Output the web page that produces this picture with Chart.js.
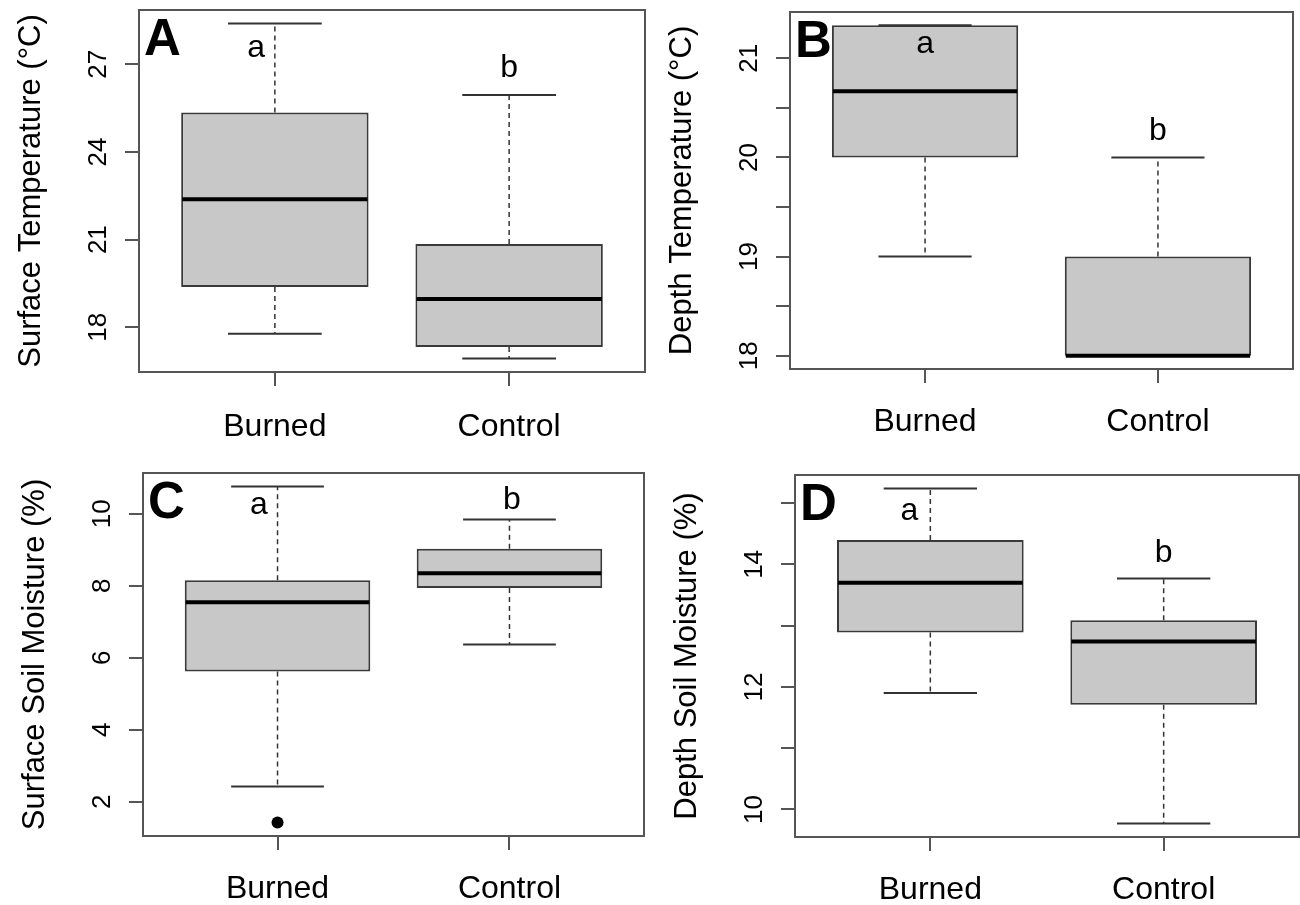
<!DOCTYPE html>
<html>
<head>
<meta charset="utf-8">
<script src="https://cdn.jsdelivr.net/npm/chart.js@4/dist/chart.umd.min.js"></script>
<style>
  body { margin: 0; background: #fff; width: 1300px; height: 905px; position: relative; overflow: hidden; }
  .panel { position: absolute; }
</style>
</head>
<body>
<div class="panel" style="left:0;top:0"><canvas id="cA" width="650" height="452"></canvas></div>
<div class="panel" style="left:650px;top:0"><canvas id="cB" width="650" height="452"></canvas></div>
<div class="panel" style="left:0;top:452px"><canvas id="cC" width="650" height="453"></canvas></div>
<div class="panel" style="left:650px;top:452px"><canvas id="cD" width="650" height="453"></canvas></div>
<script>
const groups = ["Burned", "Control"];
const groupPos = [1, 2];

// A - surface temperature
const surfTempLow = [17.78, 16.93];
const surfTempQ1 = [19.38, 17.33];
const surfTempMed = [22.38, 18.97];
const surfTempQ3 = [25.35, 20.85];
const surfTempHigh = [28.4, 25.95];
const surfTempOut = [];
const surfTempTicks = [18, 21, 24, 27];
const surfTempTickLabels = ["18", "21", "24", "27"];
const surfTempSig = ["a", "b"];
const surfTempSigX = [0.92, 2.0];
const surfTempSigY = [27.25, 26.55];

// B - depth temperature
const depthTempLow = [19.0, 18.0];
const depthTempQ1 = [20.0, 18.0];
const depthTempMed = [20.667, 18.0];
const depthTempQ3 = [21.333, 19.0];
const depthTempHigh = [21.333, 20.0];
const depthTempOut = [];
const depthTempTicks = [18, 18.5, 19, 19.5, 20, 20.5, 21];
const depthTempTickLabels = ["18", "", "19", "", "20", "", "21"];
const depthTempSig = ["a", "b"];
const depthTempSigX = [1.0, 2.0];
const depthTempSigY = [21.05, 20.18];

// C - surface soil moisture
const surfMoistLow = [2.42, 6.37];
const surfMoistQ1 = [5.62, 7.94];
const surfMoistMed = [7.54, 8.35];
const surfMoistQ3 = [8.15, 9.03];
const surfMoistHigh = [10.76, 9.84];
const surfMoistOut = [[1, 1.42]];
const surfMoistTicks = [2, 4, 6, 8, 10];
const surfMoistTickLabels = ["2", "4", "6", "8", "10"];
const surfMoistSig = ["a", "b"];
const surfMoistSigX = [0.92, 2.01];
const surfMoistSigY = [10.0, 10.14];

// D - depth soil moisture
const depthMoistLow = [11.9, 9.77];
const depthMoistQ1 = [12.89, 11.71];
const depthMoistMed = [13.7, 12.74];
const depthMoistQ3 = [14.4, 13.09];
const depthMoistHigh = [15.24, 13.77];
const depthMoistOut = [];
const depthMoistTicks = [10, 11, 12, 13, 14, 15];
const depthMoistTickLabels = ["10", "", "12", "", "14", ""];
const depthMoistSig = ["a", "b"];
const depthMoistSigX = [0.91, 2.0];
const depthMoistSigY = [14.72, 14.04];

const ink = "#000";
const frameColor = "#555";
const sans = "'Liberation Sans', Arial, sans-serif";

function decor(p) {
  return {
    id: "decor" + p.letter,
    afterDatasetsDraw(chart) {
      const { ctx, scales: { x, y } } = chart;
      const bars = chart.getDatasetMeta(0).data;
      ctx.save();
      groupPos.forEach((pos, i) => {
        const cx = x.getPixelForValue(pos);
        const half = bars[i].width / 2;
        // dashed whiskers
        ctx.strokeStyle = "#333";
        ctx.lineWidth = 1.5;
        ctx.setLineDash([5, 4]);
        ctx.beginPath();
        ctx.moveTo(cx, y.getPixelForValue(p.q3[i]));
        ctx.lineTo(cx, y.getPixelForValue(p.high[i]));
        ctx.moveTo(cx, y.getPixelForValue(p.q1[i]));
        ctx.lineTo(cx, y.getPixelForValue(p.low[i]));
        ctx.stroke();
        ctx.setLineDash([]);
        // staples
        ctx.lineWidth = 2;
        ctx.beginPath();
        [p.high[i], p.low[i]].forEach(v => {
          ctx.moveTo(cx - half / 2, y.getPixelForValue(v));
          ctx.lineTo(cx + half / 2, y.getPixelForValue(v));
        });
        ctx.stroke();
        // median
        ctx.strokeStyle = "#000";
        ctx.lineWidth = 4;
        ctx.beginPath();
        ctx.moveTo(cx - half + 1, y.getPixelForValue(p.med[i]));
        ctx.lineTo(cx + half - 1, y.getPixelForValue(p.med[i]));
        ctx.stroke();
      });
      ctx.restore();
    },
    afterDraw(chart) {
      const { ctx, chartArea: a, scales: { x, y } } = chart;
      ctx.save();
      // full frame round the plot, like R's box()
      ctx.strokeStyle = frameColor;
      ctx.lineWidth = 2;
      ctx.strokeRect(a.left, a.top, a.right - a.left, a.bottom - a.top);

      ctx.fillStyle = ink;
      // rotated y tick labels
      ctx.font = "26px " + sans;
      ctx.textAlign = "center";
      ctx.textBaseline = "alphabetic";
      p.ticks.forEach((v, i) => {
        if (!p.tickLabels[i]) return;
        ctx.save();
        ctx.translate(a.left - 33, y.getPixelForValue(v));
        ctx.rotate(-Math.PI / 2);
        ctx.fillText(p.tickLabels[i], 0, 0);
        ctx.restore();
      });
      // y title
      ctx.save();
      ctx.font = "31px " + sans;
      ctx.textBaseline = "middle";
      ctx.translate(a.left - 108, (a.top + a.bottom) / 2);
      ctx.rotate(-Math.PI / 2);
      ctx.fillText(p.title, 0, 0);
      ctx.restore();
      // significance letters
      ctx.font = "32px " + sans;
      ctx.textBaseline = "alphabetic";
      p.sig.forEach((s, i) => {
        ctx.fillText(s, x.getPixelForValue(p.sigX[i]), y.getPixelForValue(p.sigY[i]));
      });
      // panel letter
      ctx.font = "bold 51px " + sans;
      ctx.textAlign = "left";
      ctx.fillText(p.letter, a.left + 5, a.top + 45);
      ctx.restore();
    }
  };
}

function makePanel(id, p) {
  const all = p.low.concat(p.high, p.out.map(o => o[1]));
  const lo = Math.min(...all), hi = Math.max(...all);
  const pad = 0.04 * (hi - lo);
  const xLo = groupPos[0] - 0.5, xHi = groupPos[groupPos.length - 1] + 0.5;
  const xPad = 0.04 * (xHi - xLo);

  new Chart(document.getElementById(id), {
    type: "bar",
    data: {
      datasets: [
        {
          data: groupPos.map((pos, i) => ({ x: pos, y: [p.q1[i], p.q3[i]] })),
          backgroundColor: "#c8c8c8",
          borderColor: "#3a3a3a",
          borderWidth: 2,
          borderSkipped: false,
          barPercentage: 0.8,
          categoryPercentage: 1
        },
        {
          type: "scatter",
          data: p.out.map(o => ({ x: o[0], y: o[1] })),
          pointRadius: 6,
          backgroundColor: "#000",
          borderWidth: 0
        }
      ]
    },
    options: {
      responsive: false,
      animation: false,
      events: [],
      layout: { padding: p.pad },
      plugins: { legend: { display: false }, tooltip: { enabled: false } },
      scales: {
        x: {
          type: "linear",
          offset: false,
          min: xLo - xPad,
          max: xHi + xPad,
          afterBuildTicks: s => { s.ticks = groupPos.map(v => ({ value: v })); },
          afterFit: s => { s.height = p.xh; },
          grid: { offset: false, drawOnChartArea: false, drawTicks: true, tickLength: 14, color: frameColor, lineWidth: 2 },
          border: { display: false },
          ticks: {
            callback: (v, i) => groups[i],
            autoSkip: false,
            maxRotation: 0,
            padding: p.xPadTick,
            color: ink,
            font: { family: sans, size: 32 }
          }
        },
        y: {
          type: "linear",
          min: lo - pad,
          max: hi + pad,
          afterBuildTicks: s => { s.ticks = p.ticks.map(v => ({ value: v })); },
          afterFit: s => { s.width = p.yw; },
          grid: { drawOnChartArea: false, drawTicks: true, tickLength: 14, color: frameColor, lineWidth: 2 },
          border: { display: false },
          ticks: { display: false }
        }
      }
    },
    plugins: [decor(p)]
  });
}

makePanel("cA", {
  letter: "A", title: "Surface Temperature (\u00B0C)",
  low: surfTempLow, q1: surfTempQ1, med: surfTempMed, q3: surfTempQ3, high: surfTempHigh, out: surfTempOut,
  ticks: surfTempTicks, tickLabels: surfTempTickLabels,
  sig: surfTempSig, sigX: surfTempSigX, sigY: surfTempSigY,
  pad: { left: 0, top: 10, right: 5, bottom: 0 }, yw: 139, xh: 80, xPadTick: 22
});
makePanel("cB", {
  letter: "B", title: "Depth Temperature (\u00B0C)",
  low: depthTempLow, q1: depthTempQ1, med: depthTempMed, q3: depthTempQ3, high: depthTempHigh, out: depthTempOut,
  ticks: depthTempTicks, tickLabels: depthTempTickLabels,
  sig: depthTempSig, sigX: depthTempSigX, sigY: depthTempSigY,
  pad: { left: 0, top: 12, right: 7, bottom: 0 }, yw: 140, xh: 83, xPadTick: 20
});
makePanel("cC", {
  letter: "C", title: "Surface Soil Moisture (%)",
  low: surfMoistLow, q1: surfMoistQ1, med: surfMoistMed, q3: surfMoistQ3, high: surfMoistHigh, out: surfMoistOut,
  ticks: surfMoistTicks, tickLabels: surfMoistTickLabels,
  sig: surfMoistSig, sigX: surfMoistSigX, sigY: surfMoistSigY,
  pad: { left: 0, top: 21, right: 2, bottom: 0 }, yw: 143, xh: 69, xPadTick: 20
});
makePanel("cD", {
  letter: "D", title: "Depth Soil Moisture (%)",
  low: depthMoistLow, q1: depthMoistQ1, med: depthMoistMed, q3: depthMoistQ3, high: depthMoistHigh, out: depthMoistOut,
  ticks: depthMoistTicks, tickLabels: depthMoistTickLabels,
  sig: depthMoistSig, sigX: depthMoistSigX, sigY: depthMoistSigY,
  pad: { left: 0, top: 23, right: 1, bottom: 0 }, yw: 145, xh: 68, xPadTick: 20
});
</script>
</body>
</html>
